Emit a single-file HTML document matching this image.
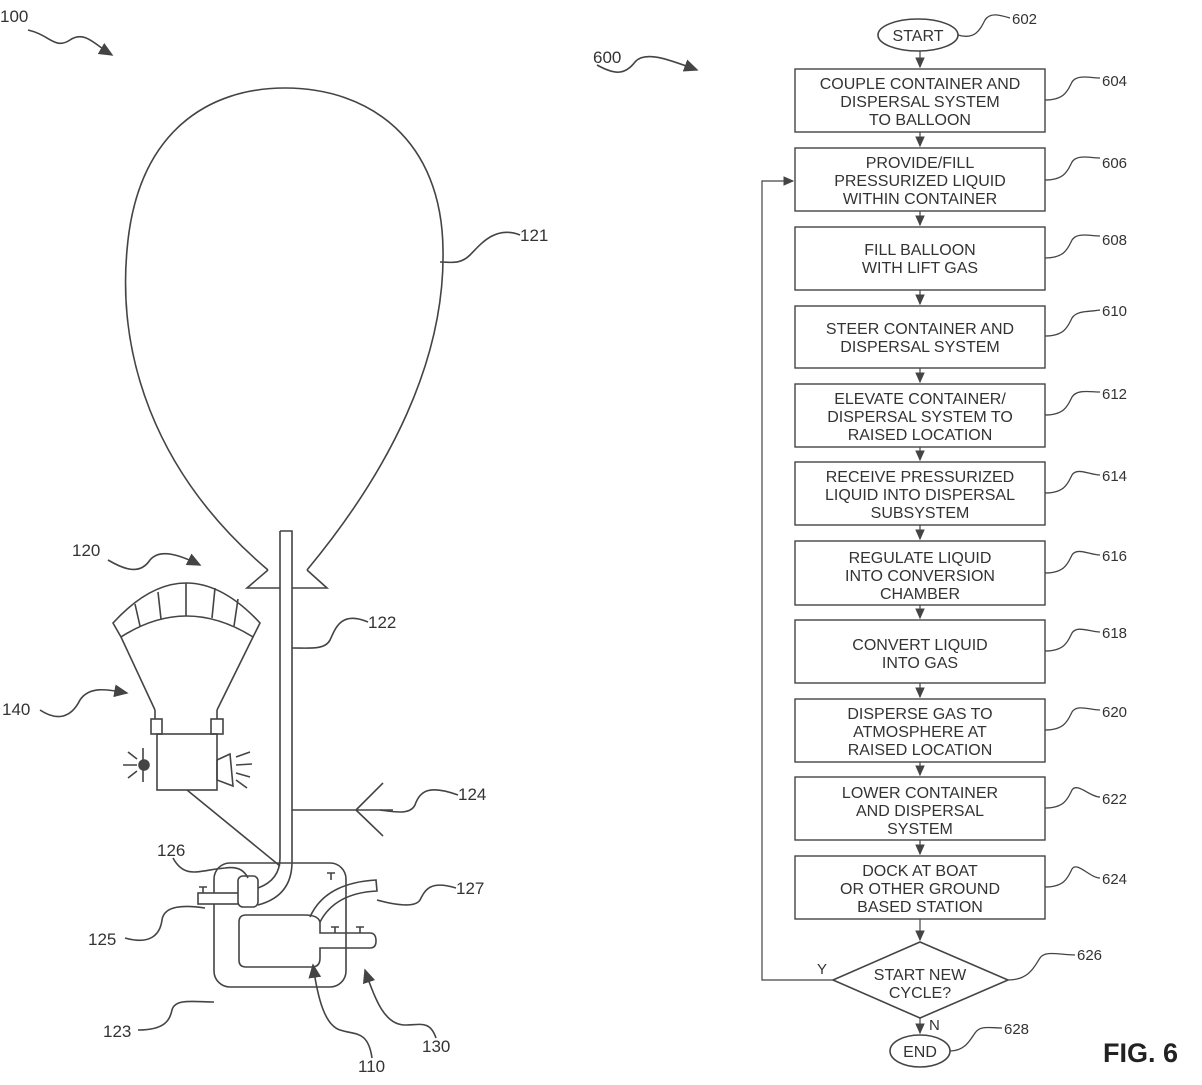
<!DOCTYPE html>
<html><head><meta charset="utf-8"><style>
html,body{margin:0;padding:0;background:#fff;}
svg text{font-family:"Liberation Sans",Arial,sans-serif;fill:#333;}
</style></head><body>
<svg width="1202" height="1080" viewBox="0 0 1202 1080" xmlns="http://www.w3.org/2000/svg">
<defs><marker id="ah" markerWidth="10" markerHeight="10" refX="8" refY="5" orient="auto"><path d="M0,1 L9,5 L0,9 Z" fill="#444"/></marker></defs>
<g fill="none" stroke="#444" stroke-width="1.6">
<!-- balloon -->
<path d="M268,570 C150,470 118,350 127,250 C137,130 210,88 285,88 C370,88 442,140 443,250 C445,360 390,470 307,570"/>
<path d="M268,570 L247,588 L280,588 M292,588 L327,588 L307,570"/>
<!-- tube -->
<path d="M280,531 L292,531 L292,862 Q292,896 258,905"/>
<path d="M280,531 L280,858 Q280,880 258,888"/>
<!-- canopy -->
<path d="M113,623 Q186,543 260,623 L253,637 Q186,595 121,637 Z"/>
<path d="M135,604 L140,626 M158,592 L161,619 M186,583 L186,616 M215,588 L212,618 M238,599 L234,626"/>
<path d="M121,637 L155,710 M253,637 L217,710"/>
<path d="M155,710 l0,9 M217,710 l0,9"/>
<rect x="151" y="719" width="11" height="15"/><rect x="211" y="719" width="12" height="15"/>
<rect x="157" y="734" width="60" height="56"/>
<circle cx="144" cy="765" r="5" fill="#444"/>
<path d="M123,765 L137,765 M143,748 L143,782 M128,752 L137,759 M128,778 L137,771"/>
<path d="M217,760 L230,754 L233,786 L217,780 Z M236,757 L250,752 M236,765 L252,764 M236,773 L250,777 M236,780 L247,788"/>
<path d="M187,790 L280,866"/>
<!-- 124 -->
<path d="M292,810 L393,810 M356,810 L383,783 M356,810 L383,836"/>
<!-- container -->
<rect x="214" y="863" width="132" height="124" rx="16"/>
<path d="M320,933 L320,922 Q318,915 305,915 L246,915 Q239,915 239,922 L239,960 Q239,967 246,967 L312,967 Q320,967 320,958 L320,948 L370,948 Q376,948 376,941 Q376,933 370,933 Z"/>
<path d="M310,917 Q325,883 376,880 L377,891 Q335,893 320,922"/>
<path d="M331,880 l0,-7 M327,873 l8,0 M335,933 l0,-6 M331,927 l8,0 M360,933 l0,-6 M356,927 l8,0 M203,893 l0,-6 M199,887 l8,0"/>
<rect x="198" y="893" width="42" height="11" fill="#fff"/>
<rect x="238" y="876" width="20" height="31" rx="5" fill="#fff"/>
<!-- leaders -->
<path d="M28,30 C50,35 55,50 70,40 C85,30 95,45 112,55" marker-end="url(#ah)"/>
<path d="M520,235 C495,225 480,245 470,255 C460,265 450,262 440,262"/>
<path d="M108,560 C125,570 140,575 150,560 C160,548 180,555 200,565" marker-end="url(#ah)"/>
<path d="M40,710 C55,720 70,720 80,700 C90,685 110,690 127,693" marker-end="url(#ah)"/>
<path d="M368,622 C340,610 335,630 330,640 C325,650 310,648 292,648"/>
<path d="M458,795 C430,785 420,790 415,805 C410,815 395,812 380,810"/>
<path d="M173,858 C185,880 200,870 225,868 C240,866 245,872 248,878"/>
<path d="M456,888 C430,880 425,890 420,900 C415,908 395,905 377,900"/>
<path d="M125,938 C150,945 160,935 162,920 C164,905 185,905 205,908"/>
<path d="M138,1030 C165,1030 170,1020 172,1010 C175,998 195,1002 214,1002"/>
<path d="M372,1058 C368,1030 355,1035 340,1030 C325,1025 318,1000 313,965" marker-end="url(#ah)"/>
<path d="M436,1038 C430,1020 420,1025 405,1025 C385,1025 375,1000 365,970" marker-end="url(#ah)"/>
<path d="M597,65 C615,75 625,75 635,62 C645,50 670,60 697,70" marker-end="url(#ah)"/>
<!-- flowchart -->
<ellipse cx="918" cy="35" rx="40" ry="16"/>
<g stroke-width="1.4">
<rect x="795" y="69" width="250" height="63"/><rect x="795" y="148" width="250" height="63"/>
<rect x="795" y="227" width="250" height="63"/><rect x="795" y="306" width="250" height="62"/>
<rect x="795" y="384" width="250" height="63"/><rect x="795" y="462" width="250" height="63"/>
<rect x="795" y="541" width="250" height="64"/><rect x="795" y="620" width="250" height="63"/>
<rect x="795" y="699" width="250" height="63"/><rect x="795" y="777" width="250" height="63"/>
<rect x="795" y="856" width="250" height="63"/>
</g>
<path d="M920,942 L1008,980 L920,1018 L833,980 Z"/>
<ellipse cx="920" cy="1051" rx="30" ry="16"/>
<g stroke-width="1.2">
<path d="M920,51 L920,67" marker-end="url(#ah)"/>
<path d="M920,132 L920,146" marker-end="url(#ah)"/>
<path d="M920,211 L920,225" marker-end="url(#ah)"/>
<path d="M920,290 L920,304" marker-end="url(#ah)"/>
<path d="M920,368 L920,382" marker-end="url(#ah)"/>
<path d="M920,447 L920,460" marker-end="url(#ah)"/>
<path d="M920,525 L920,539" marker-end="url(#ah)"/>
<path d="M920,605 L920,618" marker-end="url(#ah)"/>
<path d="M920,683 L920,697" marker-end="url(#ah)"/>
<path d="M920,762 L920,775" marker-end="url(#ah)"/>
<path d="M920,840 L920,854" marker-end="url(#ah)"/>
<path d="M920,919 L920,940" marker-end="url(#ah)"/>
<path d="M920,1018 L920,1033" marker-end="url(#ah)"/>
<path d="M833,980 L762,980 L762,181 L793,181" marker-end="url(#ah)"/>
</g>
<g stroke-width="1.3">
<path d="M958,35 C975,40 980,30 985,20 C990,12 1000,15 1010,18"/>
<path d="M1045,100 C1065,100 1068,90 1072,82 C1077,74 1090,78 1100,78"/>
<path d="M1045,180 C1065,180 1068,170 1072,162 C1077,154 1090,158 1100,158"/>
<path d="M1045,258 C1065,258 1068,248 1072,240 C1077,232 1090,236 1100,236"/>
<path d="M1045,336 C1065,336 1068,326 1072,318 C1077,310 1090,312 1100,310"/>
<path d="M1045,415 C1065,415 1068,405 1072,397 C1077,389 1090,392 1100,392"/>
<path d="M1045,493 C1065,493 1068,483 1072,475 C1077,467 1090,475 1100,475"/>
<path d="M1045,573 C1065,573 1068,563 1072,555 C1077,547 1090,555 1100,555"/>
<path d="M1045,651 C1065,651 1068,641 1072,633 C1077,625 1090,632 1100,632"/>
<path d="M1045,730 C1065,730 1068,720 1072,712 C1077,704 1090,710 1100,710"/>
<path d="M1045,808 C1065,808 1068,798 1072,790 C1077,782 1090,797 1100,797"/>
<path d="M1045,887 C1065,887 1068,877 1072,869 C1077,861 1090,878 1100,878"/>
<path d="M1008,980 C1030,980 1035,965 1040,958 C1045,950 1060,955 1075,955"/>
<path d="M950,1051 C965,1051 970,1040 975,1033 C980,1025 990,1028 1002,1028"/>
</g>
</g>
<g font-size="17">
<text x="0" y="22">100</text><text x="520" y="241">121</text><text x="72" y="556">120</text>
<text x="2" y="715">140</text><text x="368" y="628">122</text><text x="458" y="800">124</text>
<text x="157" y="856">126</text><text x="456" y="894">127</text><text x="88" y="945">125</text>
<text x="103" y="1037">123</text><text x="358" y="1072">110</text><text x="422" y="1052">130</text>
<text x="593" y="63">600</text>
</g>
<g font-size="15">
<text x="1012" y="24">602</text><text x="1102" y="86">604</text><text x="1102" y="168">606</text>
<text x="1102" y="245">608</text><text x="1102" y="316">610</text><text x="1102" y="399">612</text>
<text x="1102" y="481">614</text><text x="1102" y="561">616</text><text x="1102" y="638">618</text>
<text x="1102" y="717">620</text><text x="1102" y="804">622</text><text x="1102" y="884">624</text>
<text x="1077" y="960">626</text><text x="1004" y="1034">628</text>
<text x="817" y="974">Y</text><text x="929" y="1030">N</text>
</g>
<g font-size="16" text-anchor="middle">
<text x="918" y="41">START</text>
<text x="920" y="89">COUPLE CONTAINER AND</text><text x="920" y="107">DISPERSAL SYSTEM</text><text x="920" y="125">TO BALLOON</text>
<text x="920" y="168">PROVIDE/FILL</text><text x="920" y="186">PRESSURIZED LIQUID</text><text x="920" y="204">WITHIN CONTAINER</text>
<text x="920" y="255">FILL BALLOON</text><text x="920" y="273">WITH LIFT GAS</text>
<text x="920" y="334">STEER CONTAINER AND</text><text x="920" y="352">DISPERSAL SYSTEM</text>
<text x="920" y="404">ELEVATE CONTAINER/</text><text x="920" y="422">DISPERSAL SYSTEM TO</text><text x="920" y="440">RAISED LOCATION</text>
<text x="920" y="482">RECEIVE PRESSURIZED</text><text x="920" y="500">LIQUID INTO DISPERSAL</text><text x="920" y="518">SUBSYSTEM</text>
<text x="920" y="563">REGULATE LIQUID</text><text x="920" y="581">INTO CONVERSION</text><text x="920" y="599">CHAMBER</text>
<text x="920" y="650">CONVERT LIQUID</text><text x="920" y="668">INTO GAS</text>
<text x="920" y="719">DISPERSE GAS TO</text><text x="920" y="737">ATMOSPHERE AT</text><text x="920" y="755">RAISED LOCATION</text>
<text x="920" y="798">LOWER CONTAINER</text><text x="920" y="816">AND DISPERSAL</text><text x="920" y="834">SYSTEM</text>
<text x="920" y="876">DOCK AT BOAT</text><text x="920" y="894">OR OTHER GROUND</text><text x="920" y="912">BASED STATION</text>
<text x="920" y="980">START NEW</text><text x="920" y="998">CYCLE?</text>
<text x="920" y="1057">END</text>
</g>
<text x="1103" y="1062" font-size="27" font-weight="bold" style="fill:#222">FIG. 6</text>
</svg>
</body></html>
